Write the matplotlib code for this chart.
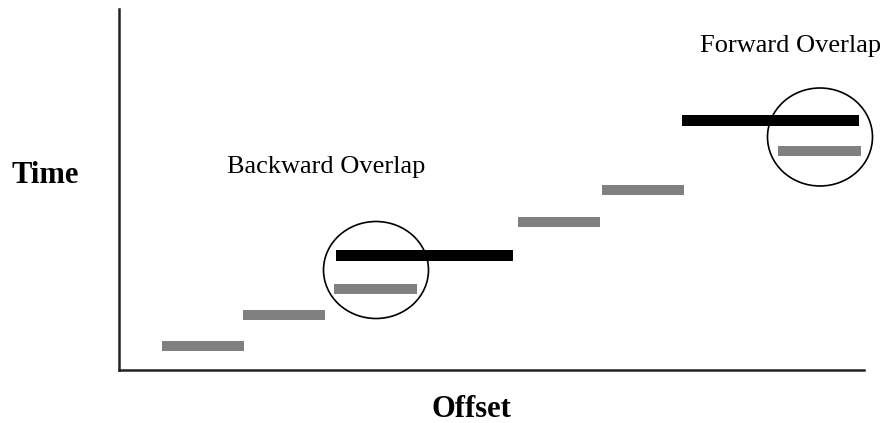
import matplotlib.pyplot as plt
from matplotlib.patches import Ellipse

plt.rcParams['font.family'] = ['Liberation Serif', 'DejaVu Serif']

# grey segments: start offset, end offset, time
grey_start = [43, 124, 215, 399, 483, 659]
grey_end = [125, 206, 298, 481, 565, 742]
grey_time = [24, 55, 81, 148, 180, 219]

# black (long) segments
black_start = [217, 563]
black_end = [394, 740]
black_time = [115, 249]

# overlap circles: centre x, centre y, width, height
circle_x = [257, 701]
circle_y = [100, 233]
circle_w = [105, 105]
circle_h = [97, 98]

W, H = 885, 423
fig = plt.figure(figsize=(W / 100, H / 100), dpi=100)
ax = fig.add_axes([119 / W, (H - 370) / H, (864 - 119) / W, (370 - 9) / H])
ax.set_xlim(0, 745)
ax.set_ylim(0, 361)

for s, e, t in zip(grey_start, grey_end, grey_time):
    ax.barh(t, e - s, left=s, height=10, color='#808080')
for s, e, t in zip(black_start, black_end, black_time):
    ax.barh(t, e - s, left=s, height=11, color='black')

for cx, cy, w, h in zip(circle_x, circle_y, circle_w, circle_h):
    ax.add_patch(Ellipse((cx, cy), w, h, fill=False, edgecolor='black',
                         linewidth=1.2, clip_on=False))

ax.text(108, 197, 'Backward Overlap', fontsize=19, va='baseline', ha='left')
ax.text(581, 318, 'Forward Overlap', fontsize=19, va='baseline', ha='left')

for side in ['top', 'right']:
    ax.spines[side].set_visible(False)
for side in ['left', 'bottom']:
    ax.spines[side].set_linewidth(1.8)
    ax.spines[side].set_color('#222222')
ax.set_xticks([])
ax.set_yticks([])

fig.text(12 / W, 1 - 183 / H, 'Time', fontsize=22, fontweight='bold',
         va='baseline', ha='left')
fig.text(471 / W, 1 - 417 / H, 'Offset', fontsize=22, fontweight='bold',
         va='baseline', ha='center')

fig.savefig('out.png', dpi=100)
